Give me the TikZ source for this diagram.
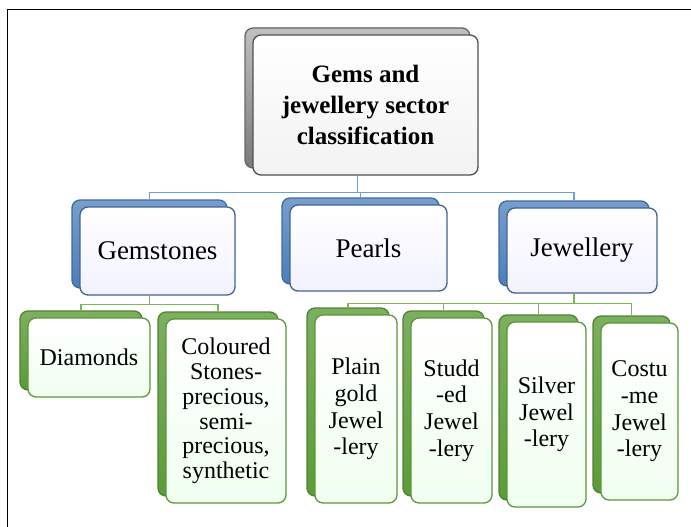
\documentclass[tikz,border=0pt]{standalone}
\usepackage{fontspec}
\setmainfont{Liberation Serif}
\usepackage{xcolor}
\usetikzlibrary{shadows}

\definecolor{topgray}{HTML}{7A7A7A}
\definecolor{topedge}{HTML}{505050}
\definecolor{gemblue}{HTML}{4A7EBB}
\definecolor{blueedge}{HTML}{42648C}
\definecolor{bluelink}{HTML}{6A9FD8}
\definecolor{leafgreen}{HTML}{5C9B38}
\definecolor{greenedge}{HTML}{5A9838}
\definecolor{greenlink}{HTML}{7DB75A}

\begin{document}
\begin{tikzpicture}[x=1pt, y=-1pt,
    box/.style={rectangle, rounded corners=8pt, line width=1.3pt, align=center, inner sep=0pt},
    topbox/.style={box, draw=topedge, top color=white, bottom color=gray!10,
        font=\bfseries\fontsize{25}{31}\selectfont,
        copy shadow={shadow xshift=-8pt, shadow yshift=7pt, top color=gray!50, bottom color=topgray, draw=topgray!85!black}},
    midbox/.style={box, draw=blueedge, top color=white, bottom color=blue!5,
        font=\fontsize{27}{31}\selectfont,
        copy shadow={shadow xshift=-8pt, shadow yshift=7pt, top color=gemblue!75, bottom color=gemblue, draw=gemblue!85!black}},
    leafbox/.style={box, draw=greenedge, top color=white, bottom color=green!6,
        font=\fontsize{24}{24.8}\selectfont,
        copy shadow={shadow xshift=-8pt, shadow yshift=7pt, top color=leafgreen!80, bottom color=leafgreen, draw=leafgreen!85!black}},
    jewelbox/.style={leafbox, font=\fontsize{24}{26.7}\selectfont},
    blueline/.style={draw=bluelink, line width=1.5pt},
    greenline/.style={draw=greenlink, line width=1.5pt}]
    \useasboundingbox (0,0) rectangle (691,527);
    \draw[line width=1pt] (7,527) -- (7,10) -- (691,10);

    \node[topbox, minimum width=225pt, minimum height=140pt] (top) at (365.5,105) {Gems and\\jewellery sector\\classification};

    \node[midbox, minimum width=155pt, minimum height=88pt] (gem) at (157.5,251) {Gemstones};
    \node[midbox, minimum width=157pt, minimum height=86pt] (pearl) at (368.5,248) {Pearls};
    \node[midbox, minimum width=150pt, minimum height=85pt] (jewel) at (582,250.5) {Jewellery};

    \node[leafbox, minimum width=122pt, minimum height=79pt] (diam) at (89,357.5) {Diamonds};
    \node[leafbox, minimum width=120pt, minimum height=184pt] (colour) at (226,411) {Coloured\\Stones-\\precious,\\semi-\\precious,\\synthetic};
    \node[jewelbox, minimum width=82pt, minimum height=188pt] (plain) at (356,409) {Plain\\gold\\Jewel\\-lery};
    \node[jewelbox, minimum width=81pt, minimum height=185pt] (stud) at (451.5,410.5) {Studd\\-ed\\Jewel\\-lery};
    \node[jewelbox, minimum width=79pt, minimum height=185pt] (silver) at (546.5,414.5) {Silver\\Jewel\\-lery};
    \node[jewelbox, minimum width=77pt, minimum height=177pt] (costume) at (639.5,411.5) {Costu\\-me\\Jewel\\-lery};

    \draw[blueline] ([xshift=-8pt]top.south) -- ++(0,17) -| ([xshift=-8pt,yshift=7pt]gem.north);
    \draw[blueline] ([xshift=-8pt]top.south) -- ++(0,17) -| ([xshift=-8pt,yshift=7pt]pearl.north);
    \draw[blueline] ([xshift=-8pt]top.south) -- ++(0,17) -| ([xshift=-8pt,yshift=7pt]jewel.north);

    \draw[greenline] ([xshift=-8pt]gem.south) -- ++(0,9) -| ([xshift=-8pt,yshift=7pt]diam.north);
    \draw[greenline] ([xshift=-8pt]gem.south) -- ++(0,9) -| ([xshift=-8pt,yshift=7pt]colour.north);
    \draw[greenline] ([xshift=-8pt]jewel.south) -- ++(0,10) -| ([xshift=-8pt,yshift=7pt]plain.north);
    \draw[greenline] ([xshift=-8pt]jewel.south) -- ++(0,10) -| ([xshift=-8pt,yshift=7pt]stud.north);
    \draw[greenline] ([xshift=-8pt]jewel.south) -- ++(0,10) -| ([xshift=-8pt,yshift=7pt]silver.north);
    \draw[greenline] ([xshift=-8pt]jewel.south) -- ++(0,10) -| ([xshift=-8pt,yshift=7pt]costume.north);
\end{tikzpicture}
\end{document}
